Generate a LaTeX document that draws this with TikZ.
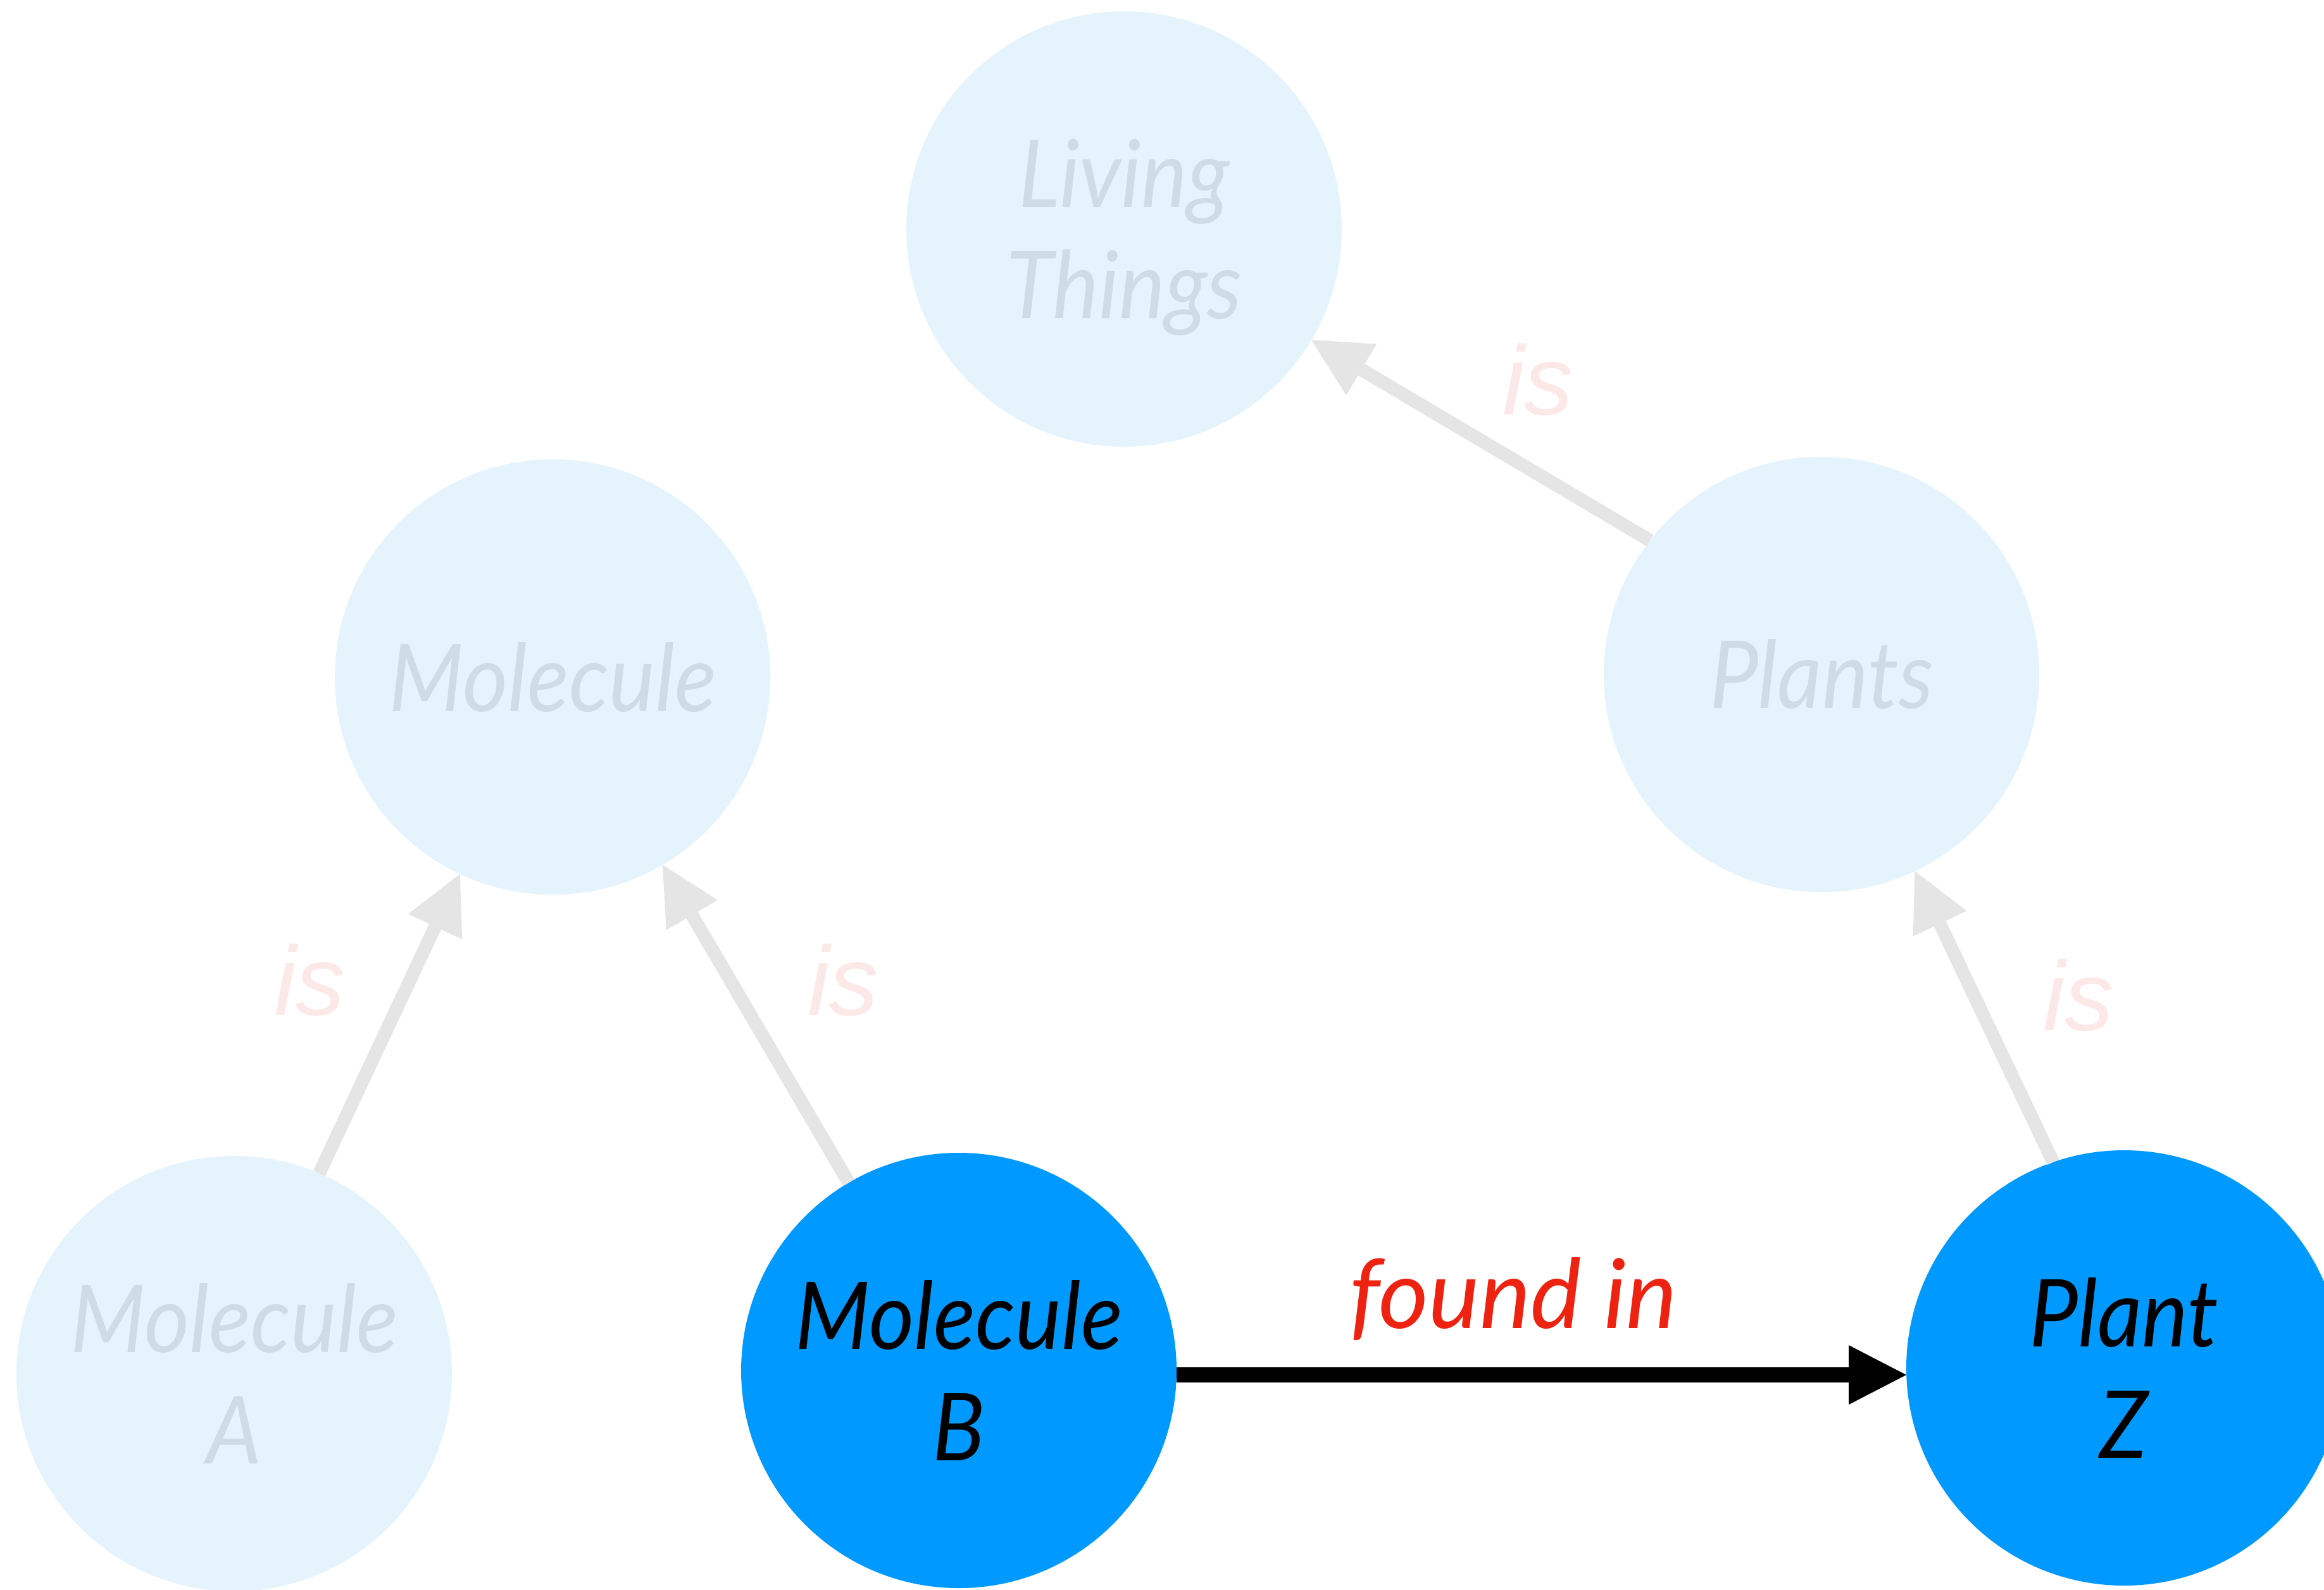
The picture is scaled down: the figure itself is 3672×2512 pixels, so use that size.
\documentclass[tikz,border=0pt]{standalone}
\usepackage{fontspec}
\usetikzlibrary{arrows.meta}
\newfontfamily\nodefont[FakeStretch=0.93]{Lato}
\newfontfamily\labelfont{Lato}
\newfontfamily\isfont{Liberation Sans}
\definecolor{lightfill}{HTML}{E5F3FD}
\definecolor{lighttext}{HTML}{CEDCE5}
\definecolor{darkfill}{HTML}{0099FF}
\definecolor{edgegray}{HTML}{E5E5E5}
\definecolor{ispink}{HTML}{FCE8E6}
\definecolor{foundred}{HTML}{EE2211}
\begin{document}
\begin{tikzpicture}[x=1pt,y=-1pt,
  concept/.style={circle, minimum size=688pt, inner sep=0pt, outer sep=0pt, align=center,
    font=\nodefont\itshape\fontsize{148}{176}\selectfont},
  faded/.style={concept, fill=lightfill, text=lighttext},
  active/.style={concept, fill=darkfill, text=black},
  isedge/.style={draw=edgegray, line width=21pt, -{Triangle[length=92pt,width=94pt,line width=0pt]}},
  foundedge/.style={draw=black, line width=24pt, -{Triangle[length=91pt,width=94pt,line width=0pt]}},
  islabel/.style={anchor=base, text=ispink, font=\isfont\itshape\fontsize{155}{186}\selectfont},
  foundlabel/.style={anchor=base, text=foundred, font=\labelfont\itshape\fontsize{152}{180}\selectfont}]
\useasboundingbox (0,0) rectangle (3672,2512);
\clip (0,0) rectangle (3672,2512);
\fill[white] (0,0) rectangle (3672,2512);

\node[faded, text depth=0pt] (living) at (1776,362) {Living\\Things};
\node[faded] (molecule) at (873,1070) {Molecule};
\node[faded] (plants) at (2878,1066) {Plants};
\node[faded] (molA) at (370,2171) {Molecule\\A};
\node[active] (molB) at (1515,2166) {Molecule\\B};
\node[active] (plantZ) at (3356,2162) {Plant\\Z};

\draw[isedge] (plants.142) -- (living);
\draw[isedge] (molA.67) -- (molecule);
\draw[isedge] (molB) -- (molecule);
\draw[isedge] (plantZ.109) -- (plants);
\draw[foundedge] ([yshift=-7pt]molB.east) -- ([yshift=-11pt]plantZ.west);

\node[islabel] (isLiving) at (2430,655) {is};
\node[islabel] (isMolA) at (489,1604) {is};
\node[islabel] (isMolB) at (1332,1604) {is};
\node[islabel] (isPlant) at (3284,1628) {is};
\node[foundlabel] (found) at (2391,2099) {found in};
\end{tikzpicture}
\end{document}
